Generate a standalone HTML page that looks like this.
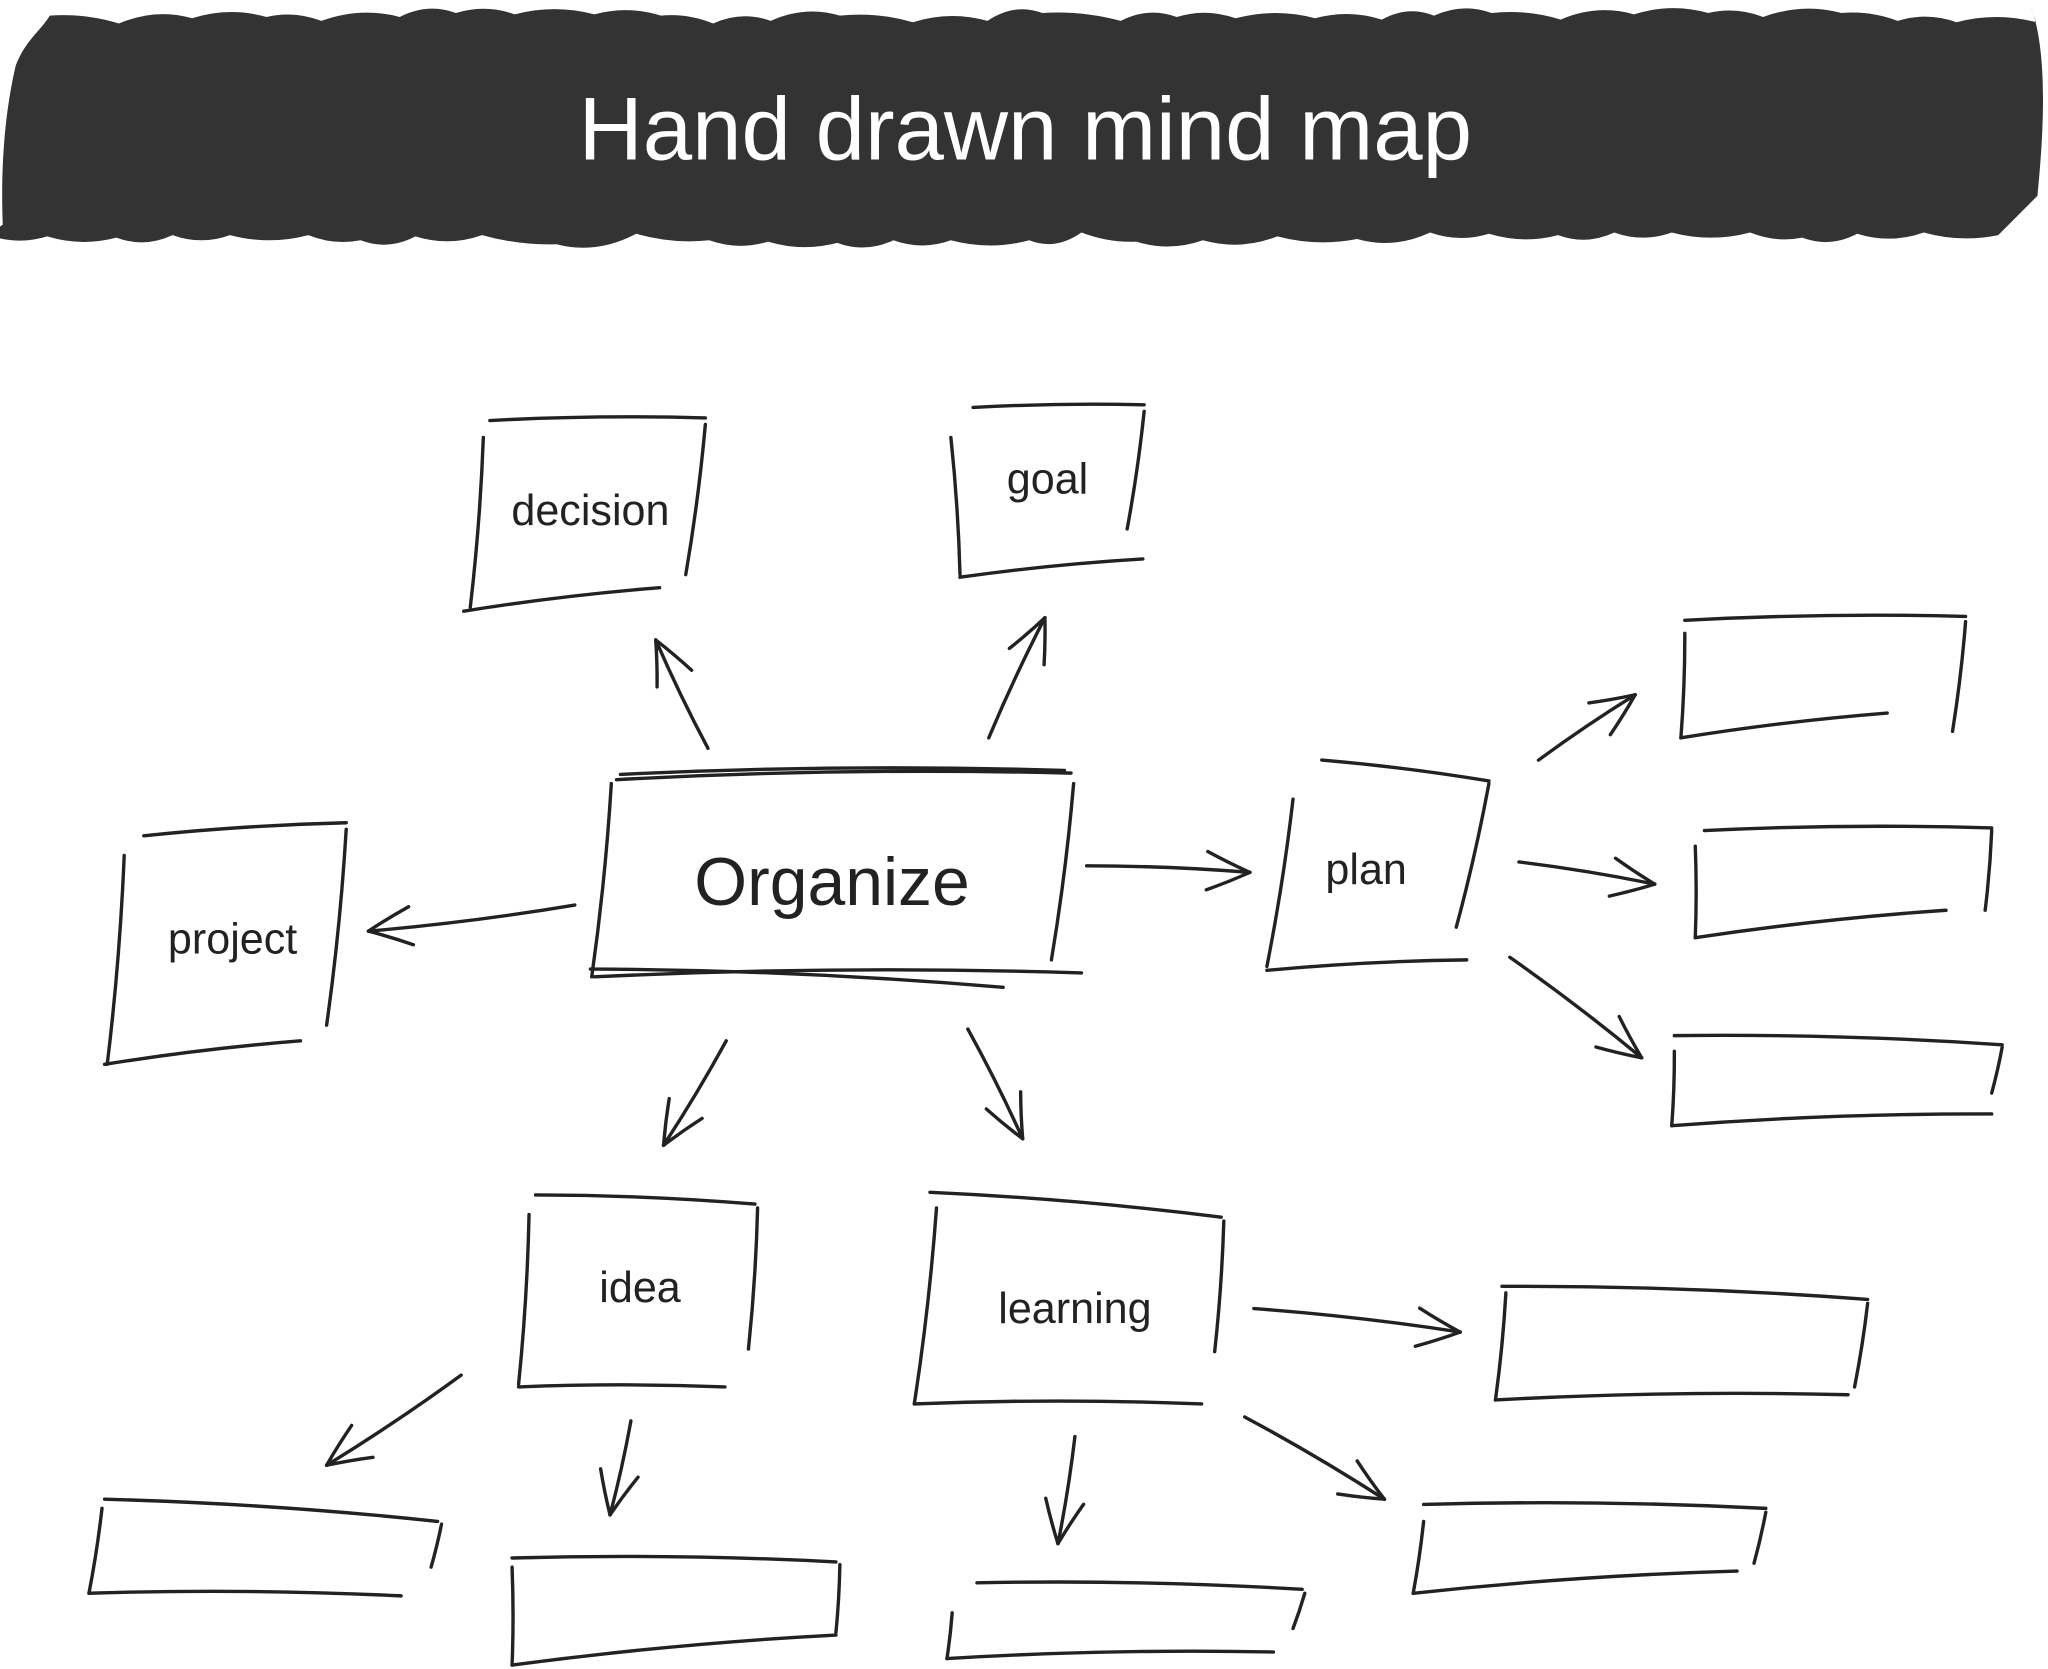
<!DOCTYPE html>
<html><head><meta charset="utf-8">
<style>
html,body{margin:0;padding:0;background:#fff;width:2048px;height:1669px;overflow:hidden}
svg{display:block}
text{font-family:"Liberation Sans",sans-serif;fill:#222}
</style></head>
<body>
<svg id="s" width="2048" height="1669" viewBox="0 0 1568 1278" xmlns="http://www.w3.org/2000/svg">
<g id="banner"></g>
<text x="785" y="122" text-anchor="middle" font-size="68" style="fill:#fff">Hand drawn mind map</text>
<g id="lines" fill="none" stroke="#222" stroke-width="2.6" stroke-linecap="round" stroke-linejoin="round"></g>
<text x="452" y="402" text-anchor="middle" font-size="33">decision</text>
<text x="802" y="378" text-anchor="middle" font-size="33">goal</text>
<text x="637" y="693" text-anchor="middle" font-size="52">Organize</text>
<text x="178" y="730" text-anchor="middle" font-size="33">project</text>
<text x="1046" y="677" text-anchor="middle" font-size="33">plan</text>
<text x="490" y="997" text-anchor="middle" font-size="33">idea</text>
<text x="823" y="1013" text-anchor="middle" font-size="33">learning</text>
</svg>
<script>
var NS="http://www.w3.org/2000/svg";
// banner
(function(){
 var d="M12,50 C20,30 30,25 38,12 ";
 var x=38;
 while(x<1545){var nx=x+40+(x*7%23);var y=(x*13%9)+8;d+="Q"+(x+nx)/2+","+(y-6)+" "+nx+","+(y+2)+" ";x=nx;}
 d+="L1555,5 C1568,40 1565,100 1560,150 L1530,180 ";
 x=1530;
 while(x>10){var nx=x-40-(x*11%23);var y=178+(x*7%10);d+="Q"+(x+nx)/2+","+(y+8)+" "+nx+","+y+" ";x=nx;}
 d+="L2,172 C0,120 5,80 12,50 Z";
 var p=document.createElementNS(NS,"path");p.setAttribute("d",d);p.setAttribute("fill","#333");
 document.getElementById("banner").appendChild(p);
})();
var g=document.getElementById("lines");
function ln(x1,y1,x2,y2){var p=document.createElementNS(NS,"path");
 var mx=(x1+x2)/2+(y2-y1)*0.02,my=(y1+y2)/2-(x2-x1)*0.02;
 p.setAttribute("d","M"+x1+","+y1+" Q"+mx+","+my+" "+x2+","+y2);g.appendChild(p);}
function box(a){for(var i=0;i<a.length;i+=4)ln(a[i],a[i+1],a[i+2],a[i+3]);}
var boxes=[
[375,322,540,320, 540,325,525,440, 355,468,505,450, 370,335,360,465],
[745,312,876,310, 876,315,863,405, 735,442,875,428, 728,335,735,440],
[468,600,453,748, 472,597,820,592, 822,600,805,735, 455,748,828,745, 475,593,815,590, 452,742,768,756],
[110,640,265,630, 265,635,250,785, 80,815,230,797, 95,655,82,815],
[1012,582,1140,598, 1140,600,1115,710, 970,743,1123,735, 990,612,970,740],
[1290,475,1505,472, 1505,476,1495,560, 1287,565,1445,546, 1290,485,1287,565],
[1305,636,1525,634, 1525,636,1520,697, 1298,718,1490,697, 1298,648,1298,718],
[1282,793,1533,800, 1533,802,1525,837, 1280,862,1525,853, 1282,805,1280,862],
[410,915,578,922, 580,925,573,1033, 397,1062,555,1062, 405,930,397,1060],
[712,913,935,932, 937,935,930,1035, 700,1075,920,1075, 717,925,700,1075],
[1150,985,1430,995, 1430,998,1420,1062, 1145,1072,1415,1068, 1153,990,1145,1072],
[1090,1152,1352,1155, 1352,1158,1343,1197, 1082,1220,1330,1203, 1090,1165,1082,1220],
[80,1148,335,1165, 338,1167,330,1200, 68,1220,307,1222, 78,1155,68,1220],
[392,1193,640,1196, 643,1198,640,1250, 392,1275,640,1252, 392,1200,392,1275],
[748,1212,997,1217, 999,1220,990,1247, 725,1270,975,1265, 729,1235,725,1270]
];
boxes.forEach(box);
function arrow(x1,y1,x2,y2){ln(x1,y1,x2,y2);
 var a=Math.atan2(y2-y1,x2-x1),L=36,s=0.42;
 for(var k=-1;k<=1;k+=2){var b=a+Math.PI+k*s;
  ln(x2,y2,x2+L*Math.cos(b),y2+L*Math.sin(b));}}
[[542,573,502,490],[757,565,800,473],[440,693,282,713],[832,663,957,668],
[1178,582,1252,532],[1163,660,1267,677],[1156,733,1257,810],
[556,797,508,877],[741,788,783,872],[353,1053,250,1122],[483,1088,467,1160],
[823,1100,810,1182],[960,1002,1118,1020],[953,1085,1060,1148]].forEach(function(a){arrow.apply(null,a);});
</script>
</body></html>
